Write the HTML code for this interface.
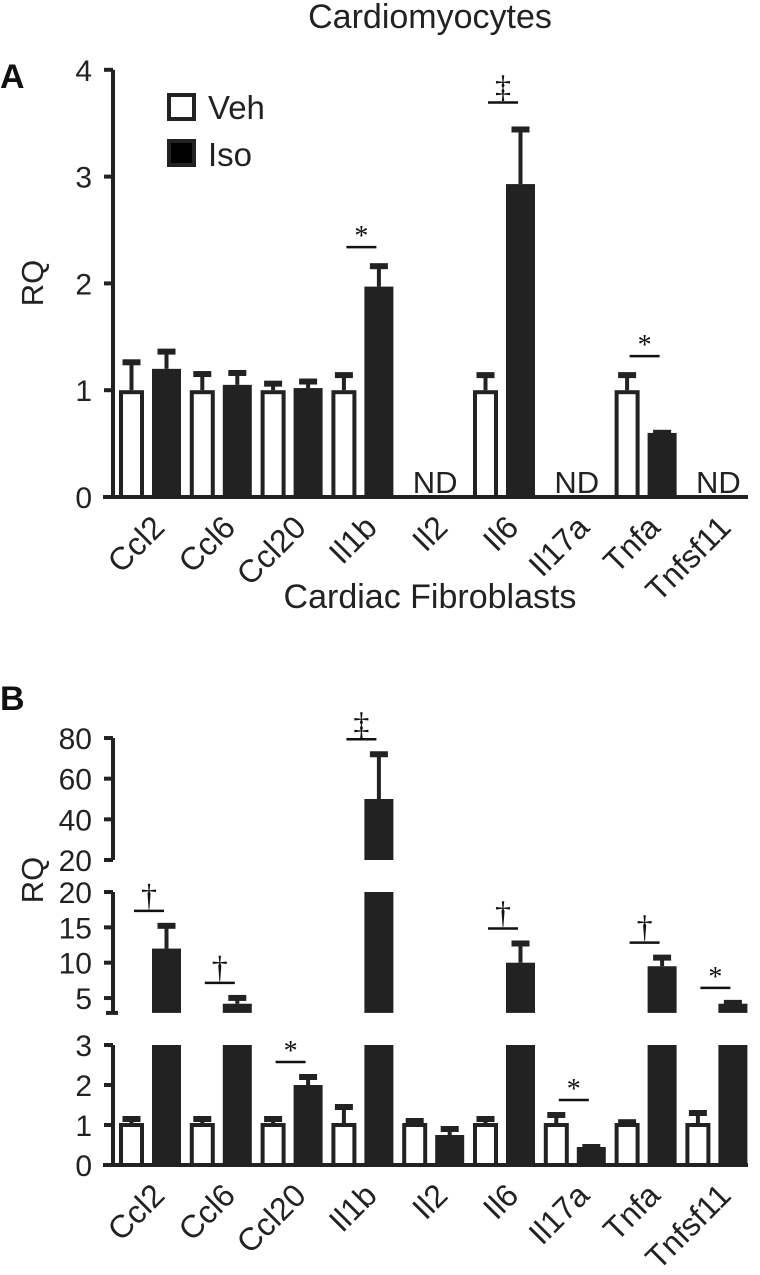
<!DOCTYPE html>
<html><head><meta charset="utf-8"><style>
html,body{margin:0;padding:0;background:#fff}
svg{display:block;font-family:"Liberation Sans",Arial,sans-serif}
</style></head><body>
<svg id="fig" width="760" height="1275" viewBox="0 0 760 1275">
<text x="430" y="28" font-size="34" text-anchor="middle" fill="#222">Cardiomyocytes</text>
<text x="0" y="88" font-size="34" font-weight="bold" fill="#111">A</text>
<text x="430" y="608" font-size="34" text-anchor="middle" fill="#222">Cardiac Fibroblasts</text>
<text x="0" y="710" font-size="34" font-weight="bold" fill="#111">B</text>
<text transform="translate(43,283) rotate(-90)" font-size="31" text-anchor="middle" fill="#222">RQ</text>
<text transform="translate(43,880) rotate(-90)" font-size="31" text-anchor="middle" fill="#222">RQ</text>
<g>
<rect x="169" y="95" width="25" height="24" fill="#fff" stroke="#222" stroke-width="4"/>
<text x="208" y="119" font-size="33" fill="#222">Veh</text>
<rect x="169" y="141" width="25" height="24" fill="#000" stroke="#222" stroke-width="4"/>
<text x="208" y="166" font-size="33" fill="#222">Iso</text>
</g>
<g id="gA"></g>
<g id="gB"></g>
</svg>
<script>
const genes = ["Ccl2","Ccl6","Ccl20","Il1b","Il2","Il6","Il17a","Tnfa","Tnfsf11"];
const aVeh = [1,1,1,1,null,1,null,1,null];
const aVehErr = [1.28,1.17,1.08,1.16,null,1.16,null,1.16,null];
const aIso = [1.2,1.05,1.02,1.97,null,2.93,null,0.6,null];
const aIsoErr = [1.38,1.18,1.1,2.18,null,3.46,null,0.62,null];
const aTicks = [0,1,2,3,4];
const aSig = [null,null,null,"*",null,"‡",null,"*",null];
const bVeh = [1.05,1.05,1.05,1.05,1.05,1.05,1.05,1.05,1.05];
const bVehErr = [1.2,1.2,1.2,1.5,1.15,1.2,1.3,1.12,1.35];
const bIso = [12,4.2,2.0,50,0.75,10,0.45,9.5,4.2];
const bIsoErr = [15.5,5.3,2.25,73,0.95,13,0.5,11,4.6];
const bTicksLow = [0,1,2,3];
const bTicksMid = [5,10,15,20];
const bTicksTop = [20,40,60,80];
const bSig = ["†","†","*","‡",null,"†","*","†","*"];

const NS="http://www.w3.org/2000/svg", C="#222";
function mk(p,tag,attrs){const e=document.createElementNS(NS,tag);for(const k in attrs)e.setAttribute(k,attrs[k]);p.appendChild(e);return e;}
const vehX=i=>119+70.8*i, isoX=i=>152+70.8*i, BW=25;

// Panel A
const gA=document.getElementById('gA');
const yA=v=>497-106.8*v;
let ax=mk(gA,'line',{x1:113,y1:yA(4),x2:113,y2:499,stroke:C,'stroke-width':4});

let bl=mk(gA,'line',{x1:103,y1:497,x2:748,y2:497,stroke:C,'stroke-width':4});

aTicks.forEach(t=>{
  let tk=mk(gA,'line',{x1:104,y1:yA(t),x2:113,y2:yA(t),stroke:C,'stroke-width':4});
  
  let tl=mk(gA,'text',{x:92,y:yA(t)+11,'font-size':30,'text-anchor':'end',fill:C});tl.textContent=t;
  
});
function errbar(g,cx,y0,y1,name){
  let l=mk(g,'line',{x1:cx,y1:y0,x2:cx,y2:y1,stroke:C,'stroke-width':4});
  
  let c=mk(g,'rect',{x:cx-9,y:y1-1,width:18,height:6,fill:C});
  
}
function sig(g,cx,y,sym,name){
  let l=mk(g,'line',{x1:cx-15,y1:y,x2:cx+15,y2:y,stroke:'#111','stroke-width':2.5});
  
  let t=mk(g,'text',{x:cx,y:sym==='*'?y-2:y-5,'font-size':sym==='*'?28:32,'text-anchor':'middle',fill:'#111','font-family':'"Liberation Serif",serif'});
  t.textContent=sym;
}
genes.forEach((g,i)=>{
  if(aVeh[i]===null){
    let t=mk(gA,'text',{x:vehX(i)+33,y:493,'font-size':31,'text-anchor':'middle',fill:C});t.textContent='ND';
    
    return;
  }
  errbar(gA,vehX(i)+BW/2,yA(aVeh[i]),yA(aVehErr[i]),'error-bar-a-veh-'+g.toLowerCase());
  let r=mk(gA,'rect',{x:vehX(i)+2,y:yA(aVeh[i])+2,width:BW-4,height:497-yA(aVeh[i])-2,fill:'#fff',stroke:C,'stroke-width':4});
  
  errbar(gA,isoX(i)+BW/2+2,yA(aIso[i]),yA(aIsoErr[i]),'error-bar-a-iso-'+g.toLowerCase());
  let r2=mk(gA,'rect',{x:isoX(i),y:yA(aIso[i]),width:BW+4,height:497-yA(aIso[i]),fill:C});
  
  if(aSig[i]){
    const top=Math.min(yA(aIsoErr[i]),yA(aVehErr[i]));
    sig(gA,vehX(i)+30,top-(aSig[i]==='‡'?25:17),aSig[i],'sig-a-'+g.toLowerCase());
  }
});
function xlabels(g,base,pfx){
  genes.forEach((n,i)=>{
    const x=vehX(i)+31, y=base+16;
    let t=mk(g,'text',{transform:`translate(${x},${y}) rotate(-45)`,'font-size':32,'text-anchor':'end',fill:C,dy:'0.72em'});
    t.textContent=n;
  });
}
xlabels(gA,497,'x-label-a');

// Panel B (broken axis)
const gB=document.getElementById('gB');
const yLow=v=>1165-40*v;           // 0..3
const yMid=v=>892-(v-20)*7.07;     // 3..20
const yTop=v=>860-(v-20)*2.033;    // 20..80
const segs=[[yLow(3),1167],[yMid(20),yMid(2.9)],[yTop(80),yTop(20)]];
segs.forEach((s,k)=>{
  let l=mk(gB,'line',{x1:113,y1:s[0],x2:113,y2:s[1],stroke:C,'stroke-width':4});
  
});
let ec=mk(gB,'line',{x1:106,y1:yMid(2.9),x2:118,y2:yMid(2.9),stroke:C,'stroke-width':4});

let blB=mk(gB,'line',{x1:103,y1:1165,x2:748,y2:1165,stroke:C,'stroke-width':4});

[[bTicksLow,yLow],[bTicksMid,yMid],[bTicksTop,yTop]].forEach(([ts,f])=>{
  ts.forEach(t=>{
    let tk=mk(gB,'line',{x1:104,y1:f(t),x2:113,y2:f(t),stroke:C,'stroke-width':4});
    
    let tl=mk(gB,'text',{x:92,y:f(t)+11,'font-size':30,'text-anchor':'end',fill:C});tl.textContent=t;
    
  });
});
function yB(v){return v<=3?yLow(v):(v<=20?yMid(v):yTop(v));}
genes.forEach((g,i)=>{
  errbar(gB,vehX(i)+BW/2,yB(bVeh[i]),yB(bVehErr[i]),'error-bar-b-veh-'+g.toLowerCase());
  let r=mk(gB,'rect',{x:vehX(i)+2,y:yB(bVeh[i])+2,width:BW-4,height:1165-yB(bVeh[i])-2,fill:'#fff',stroke:C,'stroke-width':4});
  
  const v=bIso[i], cx=isoX(i)+BW/2+2;
  errbar(gB,cx,yB(v),yB(bIsoErr[i]),'error-bar-b-iso-'+g.toLowerCase());
  const parts=[];
  parts.push([yLow(Math.min(v,3)),1165]);
  if(v>3) parts.push([yMid(Math.min(v,20)),yMid(2.9)]);
  if(v>20) parts.push([yTop(v),yTop(20)]);
  parts.forEach(p=>{
    let r2=mk(gB,'rect',{x:isoX(i),y:p[0],width:BW+4,height:p[1]-p[0],fill:C});
    
  });
  if(bSig[i]){
    const top=Math.min(yB(bIsoErr[i]),yB(bVehErr[i]));
    sig(gB,vehX(i)+30,top-13,bSig[i],'sig-b-'+g.toLowerCase());
  }
});
xlabels(gB,1165,'x-label-b');
</script>
</body></html>
